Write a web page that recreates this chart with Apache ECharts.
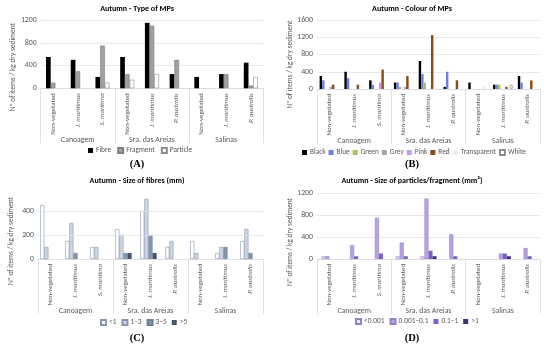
<!DOCTYPE html>
<html>
<head>
<meta charset="utf-8">
<script src="https://cdn.jsdelivr.net/npm/echarts@6/dist/echarts.min.js"></script>
<style>html,body{margin:0;padding:0;background:#fff}#c{width:550px;height:352px}</style>
</head>
<body>
<div id="c"></div>
<script>
// ---- data ----
const categories = ['Non-vegetated','J. maritimus','S. maritima','Non-vegetated','J. maritimus','P. australis','Non-vegetated','J. maritimus','P. australis'];
const groups = ['Canoagem','Sra. das Areias','Salinas'];

// (A) Type of MPs
const typeNames = ['Fibre','Fragment','Particle'];
const fibre    = [550,500,200,550,1150,250,200,250,450];
const fragment = [100,300,750,250,1100,500,0,250,50];
const particle = [0,0,100,150,250,0,0,0,200];

// (B) Colour of MPs
const colourNames = ['Black','Blue','Green','Grey','Pink','Red','Transparent','White'];
const black       = [300,400,200,150,650,50,150,100,300];
const blue        = [200,250,100,150,350,400,0,100,150];
const green       = [0,0,0,50,150,0,0,100,0];
const grey        = [0,0,0,0,0,0,0,0,0];
const pink        = [50,0,150,50,0,0,0,0,0];
const red         = [100,100,450,300,1250,200,0,50,200];
const transparent = [0,0,0,0,50,0,50,100,0];
const white       = [0,0,0,0,0,0,0,100,0];

// (C) Size of fibres (mm)
const fibreSizeNames = ['<1','1\u20133','3\u20135','>5'];
const fLt1  = [450,150,100,250,400,100,150,50,150];
const f1to3 = [100,300,100,200,500,150,50,100,250];
const f3to5 = [0,50,0,50,200,0,0,100,50];
const fGt5  = [0,0,0,50,50,0,0,0,0];

// (D) Size of particles/fragment (mm2)
const partSizeNames = ['<0.001','0.001\u20130.1','0.1\u20131','>1'];
const pLt0001 = [50,0,0,50,50,0,0,0,0];
const p0001to01 = [50,250,750,300,1100,450,0,100,200];
const p01to1 = [0,50,100,50,150,50,0,100,50];
const pGt1 = [0,0,0,0,50,0,0,50,0];

// axis ticks
const ticksA = {min:0,max:1200,interval:400};
const ticksB = {min:0,max:1600,interval:400};
const ticksC = {min:0,max:500,interval:200};
const ticksD = {min:0,max:1200,interval:400};

// ---- styling ----
const FONT = 'Carlito, Lato, sans-serif';
const TXT = '#595959';
const grids = [
  {left:40.7, top:20, width:222.5, height:68.3},
  {left:317, top:20, width:223, height:69},
  {left:38, top:199, width:225, height:60},
  {left:317, top:193, width:223, height:66}
];

function nz(a){ return a.map(v => v === 0 ? null : v); }

function catLabel(){
  return {
    rotate: 90, fontSize: 6.9, color: TXT, fontFamily: FONT, margin: 5, interval: 0,
    formatter: v => v === 'Non-vegetated' ? v : '{i|' + v + '}',
    rich: { i: { fontStyle: 'italic', fontSize: 6.9, color: TXT, fontFamily: FONT } }
  };
}

const xAxes = [], yAxes = [];
const yNamePad = [13, 10, 12, 16];
grids.forEach((g, i) => {
  xAxes.push({
    gridIndex: i, type: 'category', data: categories, position: 'bottom',
    axisLine: {lineStyle: {color: '#d9d9d9', width: 0.8}},
    axisTick: {show: false},
    axisLabel: catLabel()
  });
  xAxes.push({
    gridIndex: i, type: 'category', data: groups, position: 'bottom',
    axisLine: {show: false},
    axisTick: {show: true, length: 55, interval: 0, lineStyle: {color: '#d9d9d9', width: 0.8}},
    axisLabel: {fontSize: 7.8, color: TXT, fontFamily: FONT, margin: 48, interval: 0}
  });
});
const tk = [ticksA, ticksB, ticksC, ticksD];
tk.forEach((t, i) => {
  yAxes.push({
    gridIndex: i, type: 'value', min: t.min, max: t.max, interval: t.interval,
    name: 'N\u00ba of items / kg dry sediment', nameLocation: 'middle', nameGap: 23,
    nameTextStyle: {fontSize: 7.4, color: TXT, fontFamily: FONT, padding: [0, yNamePad[i]*2, 0, 0]},
    axisLine: {show: false}, axisTick: {show: false},
    axisLabel: {fontSize: 7.8, color: TXT, fontFamily: FONT, margin: 4, showMaxLabel: i !== 2,
      formatter: v => String(v)},
    splitLine: {show: i !== 2, lineStyle: {color: '#e3e3e3', width: 0.8}}
  });
});

function bar(name, data, gi, style, gap){
  return {
    name: name, type: 'bar', xAxisIndex: gi*2, yAxisIndex: gi, data: nz(data),
    barGap: '0%', barCategoryGap: gap, itemStyle: style
  };
}

const series = [];
// A
const gA = '43%';
series.push(bar(typeNames[0], fibre, 0, {color:'#000000'}, gA));
series.push(bar(typeNames[1], fragment, 0, {color:'#a0a0a0', borderColor:'#7f7f7f', borderWidth:0.6}, gA));
series.push(bar(typeNames[2], particle, 0, {color:'#ffffff', borderColor:'#8c8c8c', borderWidth:0.6}, gA));
// B
const gB = '21%';
const colData = [black, blue, green, grey, pink, red, transparent, white];
const colStyles = [
  {color:'#000000'},
  {color:'#6a80e0'},
  {color:'#a9c35e'},
  {color:'#a5a5a5'},
  {color:'#c39af0'},
  {color:'#8b4a17'},
  {color:'#eeeeee'},
  {color:'#ffffff', borderColor:'#8c8c8c', borderWidth:0.6}
];
colourNames.forEach((n, k) => series.push(bar(n, colData[k], 1, colStyles[k], gB)));
// C
const gC = '18%';
const cData = [fLt1, f1to3, f3to5, fGt5];
const cStyles = [
  {color:'#ffffff', borderColor:'#8497b0', borderWidth:0.6},
  {color:'#cdd7e3', borderColor:'#8497b0', borderWidth:0.6},
  {color:'#8497b0', borderColor:'#6b7f99', borderWidth:0.6},
  {color:'#44546a'}
];
fibreSizeNames.forEach((n, k) => series.push(bar(n, cData[k], 2, cStyles[k], gC)));
series.push({type:'bar', xAxisIndex:4, yAxisIndex:2, data:[], barGap:'0%', barCategoryGap:gC, silent:true,
  markLine:{silent:true, symbol:'none', label:{show:false}, lineStyle:{color:'#e3e3e3', width:0.8, type:'solid'},
    data: [{yAxis: 200}, {yAxis: 400}]}});
// D
const gD = '35%';
const dData = [pLt0001, p0001to01, p01to1, pGt1];
const dStyles = [
  {color:'#eee8f7', borderColor:'#9581c8', borderWidth:0.6},
  {color:'#b7a3e3', borderColor:'#9581c8', borderWidth:0.6},
  {color:'#7d5fc2'},
  {color:'#3f2f7e'}
];
partSizeNames.forEach((n, k) => series.push(bar(n, dData[k], 3, dStyles[k], gD)));

const titleStyle = {fontSize: 8, fontWeight: 'bold', color: '#000', fontFamily: FONT};
const letterStyle = {fontSize: 10.5, fontWeight: 'bold', color: '#000', fontFamily: '"Liberation Serif", serif'};
const titles = [
  {text:'Autumn - Type of MPs', left:137, top:5, textAlign:'center', textStyle:titleStyle, padding:0},
  {text:'Autumn - Colour of MPs', left:412, top:5, textAlign:'center', textStyle:titleStyle, padding:0},
  {text:'Autumn - Size of fibres (mm)', left:137, top:177, textAlign:'center', textStyle:titleStyle, padding:0},
  {text:'Autumn - Size of particles/fragment (mm\u00b2)', left:412, top:177, textAlign:'center', textStyle:titleStyle, padding:0},
  {text:'(A)', left:137, top:159, textAlign:'center', textStyle:letterStyle, padding:0},
  {text:'(B)', left:412, top:159, textAlign:'center', textStyle:letterStyle, padding:0},
  {text:'(C)', left:137, top:333, textAlign:'center', textStyle:letterStyle, padding:0},
  {text:'(D)', left:412, top:333, textAlign:'center', textStyle:letterStyle, padding:0}
];

function leg(data, left, top, gap, fs){
  return {data: data, left: left, top: top, width: 300, itemWidth: 5, itemHeight: 5, itemGap: gap, padding: 0,
    icon: 'rect', textStyle: {fontSize: fs, color: TXT, fontFamily: FONT, padding: [0,0,0,-2]}};
}
const legends = [
  leg(typeNames, 88, 147, 6, 7.4),
  leg(colourNames, 302, 149, 3, 7.3),
  leg(fibreSizeNames, 100, 319, 5, 7.4),
  leg(partSizeNames, 355, 318, 5, 7.4)
];

const chart = echarts.init(document.getElementById('c'), null, {renderer: 'canvas'});
chart.setOption({
  backgroundColor: '#ffffff',
  animation: false,
  title: titles,
  legend: legends,
  grid: grids,
  xAxis: xAxes,
  yAxis: yAxes,
  series: series
});
</script>
</body>
</html>
